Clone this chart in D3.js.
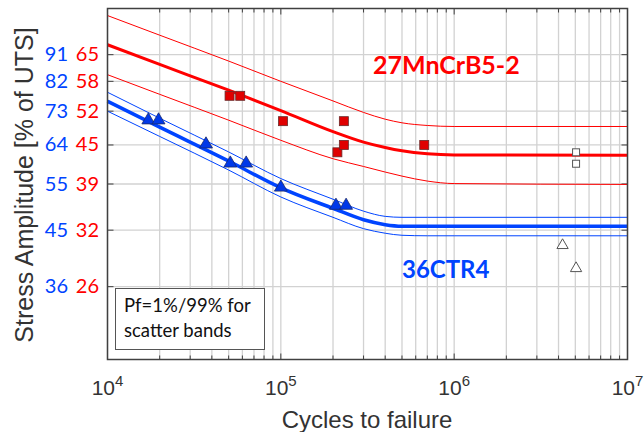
<!DOCTYPE html>
<html>
<head>
<meta charset="utf-8">
<script src="https://cdn.jsdelivr.net/npm/d3@7"></script>
<style>
  body { margin: 0; background: #fff; }
  svg { display: block; }
</style>
</head>
<body>
<div id="chart"></div>
<script>
// stress in MPa-equivalent units, cycles on log axis
var yTicks = [1000, 900, 800, 700, 600, 500, 400];
var blueTickLabels = ["91", "82", "73", "64", "55", "45", "36"];
var redTickLabels = ["65", "58", "52", "45", "39", "32", "26"];
var xDecades = [4, 5, 6, 7];

// curve points
var curveN = [1e4, 2e4, 5e4, 1e5, 2e5, 3e5, 4e5, 5e5, 7e5, 1e6, 1e7];
var redMedian = [1040, 962, 869, 802, 738, 708, 693, 684, 676, 673, 672];
var redUpper  = [1167, 1080, 975, 900, 833, 796, 775, 764, 756, 753, 753];
var redLower  = [924, 855, 772, 713, 663, 643, 629, 619, 607, 601, 599];
var blueMedian = [832, 751, 657, 591, 545, 521, 511, 508, 508, 508, 508];
var blueUpper  = [862, 778, 681, 613, 565, 539, 528, 526, 526, 526, 526];
var blueLower  = [800, 724, 634, 570, 526, 503, 494, 490, 489, 489, 489];

// test points [cycles, stress]
var redFailures = [[5.06e4, 850], [5.83e4, 850], [1.03e5, 769], [2.12e5, 680], [2.31e5, 700], [2.31e5, 769], [6.72e5, 700]];
var redRunouts = [[5.05e6, 680], [5.05e6, 650]];
var blueFailures = [[1.72e4, 772], [1.97e4, 772], [3.70e4, 702], [5.11e4, 651], [6.31e4, 651], [1.0e5, 592], [2.08e5, 551], [2.38e5, 551]];
var blueRunouts = [[4.22e6, 471], [5.05e6, 430]];

var W = 644, H = 432;
var RED = "#ff0000", BLUE = "#0044ff";

var svg = d3.select("#chart").append("svg").attr("width", W).attr("height", H);

var x = d3.scaleLog().domain([1e4, 1e7]).range([107.5, 627.5]);
var y = d3.scaleLog().domain([300, 1200]).range([359.5, 8.5]);

// grid
var grid = svg.append("g");
grid.selectAll("line.v").data(x.ticks()).enter().append("line")
    .attr("x1", function(d){ return x(d); }).attr("x2", function(d){ return x(d); })
    .attr("y1", y.range()[0]).attr("y2", y.range()[1])
    .style("stroke", "#d2d2d2").style("stroke-width", 1.3);
grid.selectAll("line.h").data(yTicks).enter().append("line")
    .attr("y1", function(d){ return y(d); }).attr("y2", function(d){ return y(d); })
    .attr("x1", x.range()[0]).attr("x2", x.range()[1])
    .style("stroke", "#d2d2d2").style("stroke-width", 1.3);

// tick marks
var ticks = svg.append("g").style("stroke", "#404040").style("stroke-width", 1);
x.ticks().forEach(function(d){
    var len = Math.abs(Math.log10(d) % 1) < 1e-9 ? 6 : 4;
    ticks.append("line").attr("x1", x(d)).attr("x2", x(d)).attr("y1", y.range()[0]).attr("y2", y.range()[0] - len);
    ticks.append("line").attr("x1", x(d)).attr("x2", x(d)).attr("y1", y.range()[1]).attr("y2", y.range()[1] + len);
});
yTicks.forEach(function(d){
    ticks.append("line").attr("y1", y(d)).attr("y2", y(d)).attr("x1", x.range()[0]).attr("x2", x.range()[0] + 6);
    ticks.append("line").attr("y1", y(d)).attr("y2", y(d)).attr("x1", x.range()[1]).attr("x2", x.range()[1] - 6);
});

// curves
var line = d3.line()
    .x(function(d, i){ return x(curveN[i]); })
    .y(function(d){ return y(d); })
    .curve(d3.curveMonotoneX);

var curves = [
    {v: redUpper, c: RED, w: 1},
    {v: redLower, c: RED, w: 1},
    {v: redMedian, c: RED, w: 3},
    {v: blueUpper, c: BLUE, w: 1},
    {v: blueLower, c: BLUE, w: 1},
    {v: blueMedian, c: BLUE, w: 3.5}
];
svg.append("g").selectAll("path").data(curves).enter().append("path")
    .attr("d", function(d){ return line(d.v); })
    .style("fill", "none")
    .style("stroke", function(d){ return d.c; })
    .style("stroke-width", function(d){ return d.w; });

// markers
var tri = d3.symbol().type(d3.symbolTriangle);
svg.append("g").selectAll("rect").data(redFailures).enter().append("rect")
    .attr("x", function(d){ return x(d[0]) - 4.5; }).attr("y", function(d){ return y(d[1]) - 4.5; })
    .attr("width", 9).attr("height", 9)
    .style("fill", "#e00000").style("stroke", "#6a2a2a").style("stroke-width", 0.8);
svg.append("g").selectAll("rect").data(redRunouts).enter().append("rect")
    .attr("x", function(d){ return x(d[0]) - 3.5; }).attr("y", function(d){ return y(d[1]) - 3.5; })
    .attr("width", 7).attr("height", 7)
    .style("fill", "#fff").style("stroke", "#555").style("stroke-width", 1);
svg.append("g").selectAll("path").data(blueFailures).enter().append("path")
    .attr("d", tri.size(72))
    .attr("transform", function(d){ return "translate(" + x(d[0]) + "," + y(d[1]) + ")"; })
    .style("fill", "#0038e8").style("stroke", "#1a2a6a").style("stroke-width", 0.8);
svg.append("g").selectAll("path").data(blueRunouts).enter().append("path")
    .attr("d", tri.size(55))
    .attr("transform", function(d){ return "translate(" + x(d[0]) + "," + y(d[1]) + ")"; })
    .style("fill", "#fff").style("stroke", "#555").style("stroke-width", 1);

// axes box
svg.append("rect")
    .attr("x", x.range()[0]).attr("y", y.range()[1])
    .attr("width", x.range()[1] - x.range()[0]).attr("height", y.range()[0] - y.range()[1])
    .style("fill", "none").style("stroke", "#404040").style("stroke-width", 1.5);

// y tick labels
svg.append("g").selectAll("text").data(yTicks).enter().append("text")
    .attr("x", 68).attr("y", function(d){ return y(d) + 6.5; })
    .attr("text-anchor", "end")
    .style("font-family", "Lato, 'Open Sans', sans-serif").style("font-size", "20px")
    .style("fill", BLUE)
    .text(function(d, i){ return blueTickLabels[i]; });
svg.append("g").selectAll("text").data(yTicks).enter().append("text")
    .attr("x", 99).attr("y", function(d){ return y(d) + 6.5; })
    .attr("text-anchor", "end")
    .style("font-family", "Lato, 'Open Sans', sans-serif").style("font-size", "20px")
    .style("fill", RED)
    .text(function(d, i){ return redTickLabels[i]; });

// x tick labels
var xl = svg.append("g").selectAll("text").data(xDecades).enter().append("text")
    .attr("x", function(d){ return x(Math.pow(10, d)); }).attr("y", 395)
    .attr("text-anchor", "middle")
    .style("font-family", "'Liberation Sans', Arial, sans-serif").style("font-size", "21px")
    .style("fill", "#333");
xl.append("tspan").text("10");
xl.append("tspan").attr("dy", -9).style("font-size", "15px").text(function(d){ return d; });

// axis titles
svg.append("text")
    .attr("x", 367).attr("y", 428)
    .attr("text-anchor", "middle")
    .style("font-family", "'Liberation Sans', Arial, sans-serif").style("font-size", "24px")
    .style("fill", "#333")
    .text("Cycles to failure");
svg.append("text")
    .attr("transform", "translate(33,185) rotate(-90)")
    .attr("text-anchor", "middle")
    .style("font-family", "'Liberation Sans', Arial, sans-serif").style("font-size", "25px")
    .style("fill", "#333")
    .text("Stress Amplitude [% of UTS]");

// material labels
svg.append("text")
    .attr("x", 373).attr("y", 74)
    .style("font-family", "Lato, 'Open Sans', sans-serif").style("font-weight", "bold").style("font-size", "25px")
    .style("fill", RED)
    .text("27MnCrB5-2");
svg.append("text")
    .attr("x", 402).attr("y", 278)
    .style("font-family", "Lato, 'Open Sans', sans-serif").style("font-weight", "bold").style("font-size", "24px")
    .style("fill", BLUE)
    .text("36CTR4");

// note box
svg.append("rect")
    .attr("x", 115.5).attr("y", 288.5).attr("width", 149).attr("height", 61)
    .style("fill", "#fff").style("stroke", "#555").style("stroke-width", 1);
var note = svg.append("text")
    .style("font-family", "Lato, 'Open Sans', sans-serif").style("font-size", "18.5px")
    .style("fill", "#111");
note.append("tspan").attr("x", 124).attr("y", 312).text("Pf=1%/99% for");
note.append("tspan").attr("x", 124).attr("y", 337).text("scatter bands");
</script>
</body>
</html>
